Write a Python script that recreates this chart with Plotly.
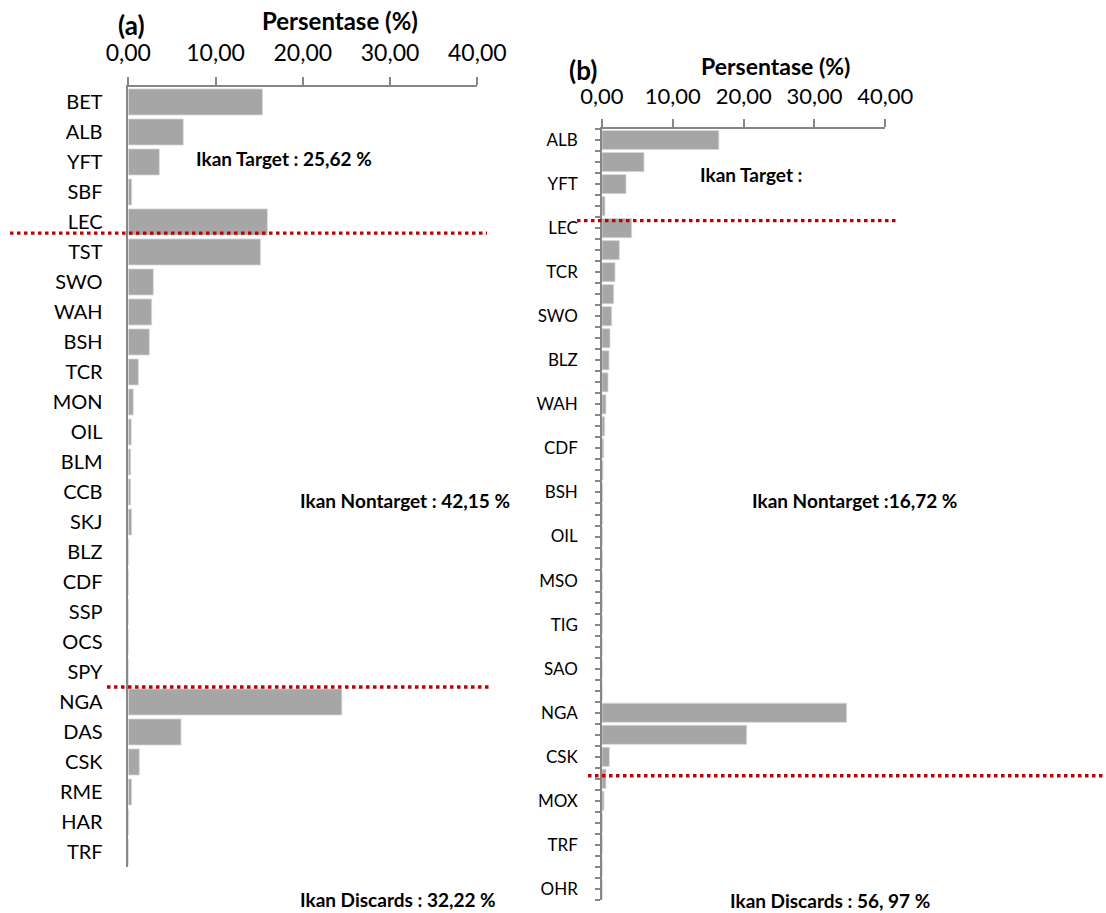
import plotly.graph_objects as go

W, H = 1106, 913

# ---------------- data ----------------
species_a = ["BET", "ALB", "YFT", "SBF", "LEC", "TST", "SWO", "WAH", "BSH", "TCR",
             "MON", "OIL", "BLM", "CCB", "SKJ", "BLZ", "CDF", "SSP", "OCS", "SPY",
             "NGA", "DAS", "CSK", "RME", "HAR", "TRF"]
pct_a = [15.37, 6.30, 3.56, 0.39, 15.94, 15.14, 2.87, 2.68, 2.41, 1.15,
         0.57, 0.34, 0.27, 0.27, 0.38, 0.04, 0.03, 0.02, 0.01, 0.01,
         24.47, 6.04, 1.26, 0.38, 0.05, 0.02]

labels_b = ["ALB", "", "YFT", "", "LEC", "", "TCR", "", "SWO", "", "BLZ", "", "WAH", "",
            "CDF", "", "BSH", "", "OIL", "", "MSO", "", "TIG", "", "SAO", "", "NGA", "",
            "CSK", "", "MOX", "", "TRF", "", "OHR"]
pct_b = [16.50, 5.93, 3.39, 0.42, 4.19, 2.45, 1.84, 1.65, 1.37, 1.13, 0.99, 0.85, 0.56, 0.38,
         0.24, 0.15, 0.10, 0.08, 0.06, 0.05, 0.04, 0.03, 0.03, 0.02, 0.02, 0.02, 34.55, 20.43,
         1.04, 0.56, 0.28, 0.05, 0.03, 0.02, 0.02]

x_ticks = [0, 10, 20, 30, 40]
dividers_a = [4.37, 19.5]
dividers_b = [3.66, 28.86]

# ---------------- style ----------------
FONT = "Lato"
BAR = "#A6A6A6"
AX = "#868686"
RED = "#C00000"


def px(x):
    return x / W


def py(y):
    return 1 - y / H


fig = go.Figure()
fig.add_trace(go.Bar(
    x=pct_a, y=species_a, orientation="h", xaxis="x", yaxis="y",
    marker=dict(color=BAR, line=dict(color="#D9D9D9", width=0.8)),
    showlegend=False,
))
fig.add_trace(go.Bar(
    x=pct_b, y=list(range(len(pct_b))), orientation="h", xaxis="x2", yaxis="y2",
    marker=dict(color=BAR, line=dict(color="#D9D9D9", width=0.8)),
    showlegend=False,
))

common_x = dict(
    range=[0, 40], tickvals=x_ticks, tickformat=".2f", side="top",
    showline=True, linecolor=AX, linewidth=1.5, ticks="outside", ticklen=8,
    tickcolor=AX, tickwidth=1.5, showgrid=False, zeroline=False, automargin=False,
)

fig.update_layout(
    template="none",
    width=W, height=H, margin=dict(l=0, r=0, t=0, b=0, autoexpand=False),
    paper_bgcolor="white", plot_bgcolor="white",
    separators=",.", bargap=0.13,
    font=dict(family=FONT, color="black"),
    xaxis=dict(common_x, domain=[px(128.3), px(477.3)], anchor="y", ticklabelstandoff=7,
               tickfont=dict(family=FONT, size=23, color="black")),
    yaxis=dict(
        domain=[py(867), py(87)], anchor="x", type="category",
        categoryorder="array", categoryarray=species_a, autorange="reversed",
        showline=True, linecolor=AX, linewidth=1.5, ticks="", showgrid=False,
        zeroline=False, ticklabelstandoff=20, automargin=False,
        tickfont=dict(family=FONT, size=20, color="black"),
    ),
    xaxis2=dict(common_x, domain=[px(602), px(885.3)], anchor="y2", ticklabelstandoff=6,
                tickfont=dict(family=FONT, size=22, color="black")),
    yaxis2=dict(
        domain=[py(900), py(129)], anchor="x2",
        range=[len(pct_b) - 0.5, -0.5],
        tickmode="array",
        tickvals=[i for i, l in enumerate(labels_b) if l],
        ticktext=[l for l in labels_b if l],
        showline=True, linecolor=AX, linewidth=1.5, ticks="outside", ticklen=5,
        tickcolor=AX, tickwidth=1.5, showgrid=False, zeroline=False,
        ticklabelstandoff=14, automargin=False,
        minor=dict(ticks="outside", ticklen=5, tickcolor=AX, tickwidth=1.5,
                   tickmode="linear", tick0=-0.5, dtick=0.5, showgrid=False),
        tickfont=dict(family=FONT, size=17, color="black"),
    ),
)

# separator lines between groups
for yv, (xa, xb) in zip(dividers_a, [(10, 487), (107, 490)]):
    fig.add_shape(type="line", xref="paper", yref="y", x0=px(xa), x1=px(xb), y0=yv, y1=yv,
                  line=dict(color=RED, width=3.3, dash="3.5px,3.5px"))
for yv, (xa, xb) in zip(dividers_b, [(577, 898), (588, 1106)]):
    fig.add_shape(type="line", xref="paper", yref="y2", x0=px(xa), x1=px(xb), y0=yv, y1=yv,
                  line=dict(color=RED, width=3.3, dash="3.5px,3.5px"))


def note(text, x, y, size, anchor="left", bold=True):
    fig.add_annotation(
        text=f"<b>{text}</b>" if bold else text, xref="paper", yref="paper",
        x=px(x), y=py(y), xanchor=anchor, yanchor="middle", showarrow=False,
        font=dict(family=FONT, size=size, color="black"),
    )


note("(a)", 131, 25, 26, "center")
note("Persentase (%)", 340, 20, 24, "center")
note("(b)", 583, 70, 26, "center")
note("Persentase (%)", 775, 66, 23, "center")

note("Ikan Target : 25,62 %", 194, 158, 19)
note("Ikan Nontarget : 42,15 %", 298, 500, 19)
note("Ikan Discards : 32,22 %", 298, 899, 19)
note("Ikan Target :", 698, 174, 19)
note("Ikan Nontarget :16,72 %", 750, 501, 19)
note("Ikan Discards : 56, 97 %", 728, 900, 19)

fig.write_html("out.html")
